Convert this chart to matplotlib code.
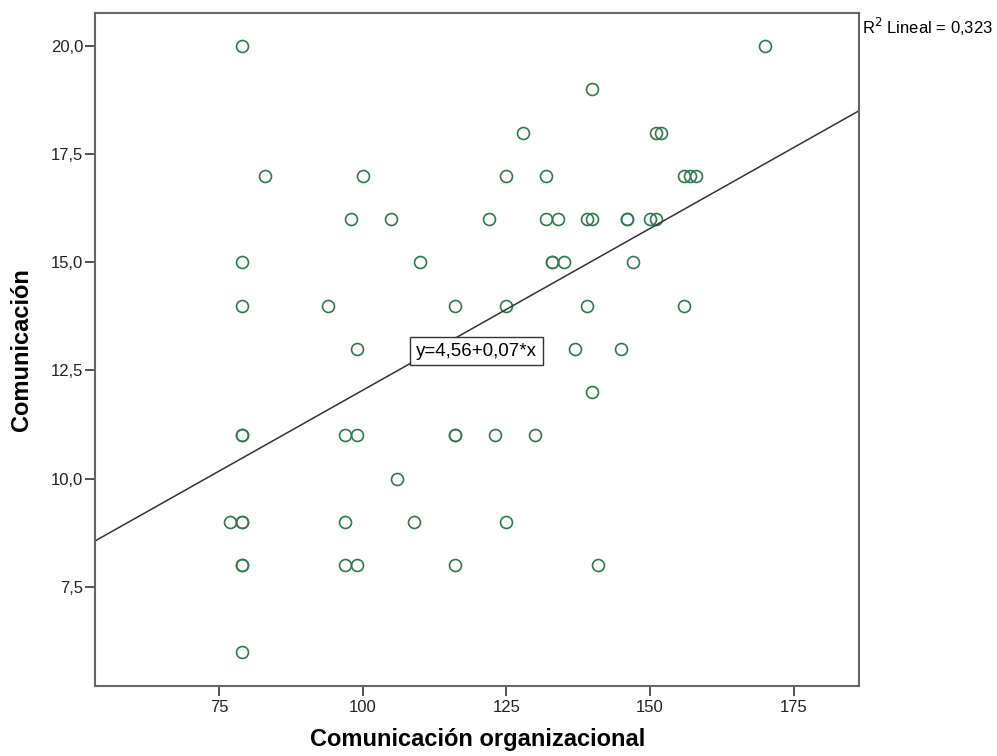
import matplotlib
matplotlib.use("Agg")
import matplotlib.pyplot as plt
import numpy as np
from matplotlib.ticker import FixedLocator, FuncFormatter

# Data
x_vals = [79, 83, 100, 98, 105, 122, 79, 110, 79, 94, 116, 99,
          170, 140, 128, 151, 152, 125, 132, 156, 157, 158,
          132, 134, 139, 140, 146, 146, 150, 151,
          133, 133, 135, 147, 125, 139, 156,
          79, 79, 97, 99, 116, 116, 106,
          77, 79, 79, 97, 109, 79, 79, 97, 99, 116, 79,
          137, 145, 140, 123, 130, 125, 141]
y_vals = [20, 17, 17, 16, 16, 16, 15, 15, 14, 14, 14, 13,
          20, 19, 18, 18, 18, 17, 17, 17, 17, 17,
          16, 16, 16, 16, 16, 16, 16, 16,
          15, 15, 15, 15, 14, 14, 14,
          11, 11, 11, 11, 11, 11, 10,
          9, 9, 9, 9, 9, 8, 8, 8, 8, 8, 6,
          13, 13, 12, 11, 11, 9, 8]

intercept = 4.56
slope = 0.0748
x_limits = [53.42, 186.45]
y_limits = [5.21, 20.77]
x_ticks = [75, 100, 125, 150, 175]
y_ticks = [7.5, 10.0, 12.5, 15.0, 17.5, 20.0]

plt.rcParams['font.family'] = ['Liberation Sans', 'DejaVu Sans']

fig = plt.figure(figsize=(9.97, 7.56), dpi=100)
ax = fig.add_axes([95/997, 1-685.7/756, (859.3-95)/997, (685.7-12.7)/756])

ax.plot(x_vals, y_vals, linestyle='none', marker='o', markersize=8.6,
        markerfacecolor='none', markeredgecolor='#2f7a4c', markeredgewidth=1.2)

lx = np.array(x_limits)
ax.plot(lx, intercept + slope * lx, color='#333333', linewidth=1.1)

ax.set_xlim(x_limits)
ax.set_ylim(y_limits)
ax.xaxis.set_major_locator(FixedLocator(x_ticks))
ax.yaxis.set_major_locator(FixedLocator(y_ticks))
ax.xaxis.set_major_formatter(FuncFormatter(lambda v, p: f"{v:.0f}"))
ax.yaxis.set_major_formatter(FuncFormatter(lambda v, p: f"{v:.1f}".replace('.', ',')))
ax.tick_params(axis='both', direction='out', length=7, width=1.2, color='#333333',
               labelsize=12, labelcolor='#222222', top=False, right=False)
ax.tick_params(axis='x', pad=3)
ax.tick_params(axis='y', pad=1.5)
for s in ax.spines.values():
    s.set_color('#666666')
    s.set_linewidth(1.5)

ax.set_xlabel('Comunicación organizacional', fontsize=17, fontweight='bold', va='top')
ax.xaxis.set_label_coords(0.5, -0.063)
ax.set_ylabel('Comunicación', fontsize=17, fontweight='bold', va='center')
ax.yaxis.set_label_coords(-0.0968, 0.5)

ax.text(0.42, 0.4973, 'y=4,56+0,07*x', transform=ax.transAxes, fontsize=13.5,
        va='center', ha='left',
        bbox=dict(boxstyle='square,pad=0.3', facecolor='white', edgecolor='#333333', linewidth=1))

fig.text(862/997, 1-27/756, 'R$^2$ Lineal = 0,323', fontsize=12, ha='left', va='center')

fig.savefig('out.png', dpi=100)
